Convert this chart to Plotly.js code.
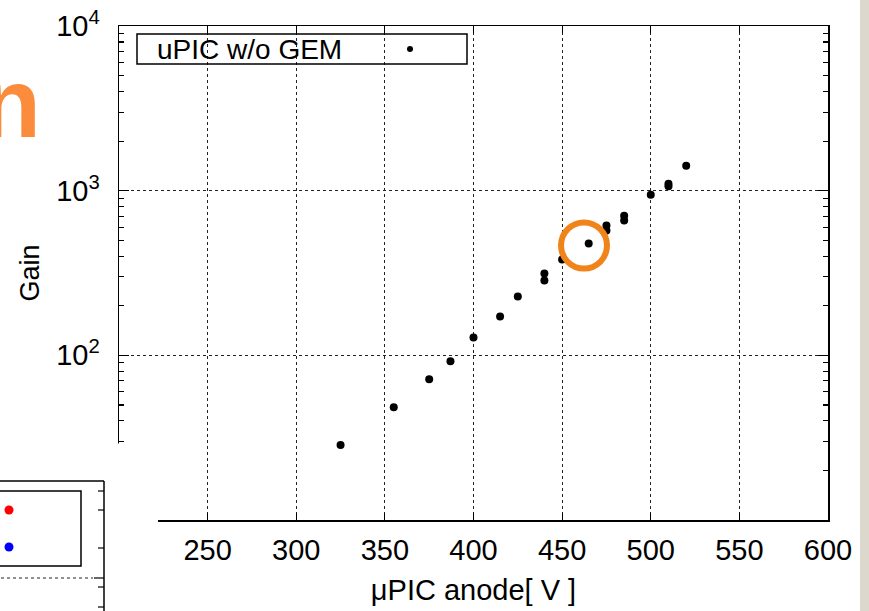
<!DOCTYPE html>
<html>
<head>
<meta charset="utf-8">
<script src="https://cdn.plot.ly/plotly-3.0.1.min.js"></script>
<style>
  html, body { margin: 0; padding: 0; background: #ffffff; }
  #chart { width: 869px; height: 611px; }
</style>
</head>
<body>
<div id="chart"></div>
<script>
// ---- data ----
const seriesName = "uPIC w/o GEM";
const anodeVoltage = [325, 355, 375, 387, 400, 415, 425, 440, 440, 450, 465, 475, 475, 485, 485, 500, 510, 510, 520];
const gainValues   = [28.5, 48.4, 71.6, 92, 128.5, 172, 228, 314, 285, 382, 477, 614, 573, 705, 658, 946, 1065, 1100, 1419];

const xTickVals = [200, 250, 300, 350, 400, 450, 500, 550, 600];
const xTickText = ["200", "250", "300", "350", "400", "450", "500", "550", "600"];
const yTickVals = [10, 100, 1000, 10000];
const yTickText = ["10<sup>1</sup>", "10<sup>2</sup>", "10<sup>3</sup>", "10<sup>4</sup>"];
const yMinorVals = [20,30,40,50,60,70,80,90,200,300,400,500,600,700,800,900,2000,3000,4000,5000,6000,7000,8000,9000];

const xTitle = "\u03BCPIC anode[ V ]";
const yTitle = "Gain";
const slideFragment = "n";

// ---- geometry helpers (pixel -> paper) ----
const L = 119, R = 828, T = 26, B = 520;
const W = R - L, H = B - T;
const px = v => (v - L) / W;
const py = v => (B - v) / H;

const FONT = "Liberation Sans, Arial, Helvetica, sans-serif";

const trace = {
  x: anodeVoltage,
  y: gainValues,
  type: "scatter",
  mode: "markers",
  name: seriesName,
  marker: { color: "#000000", size: 8 },
  showlegend: false,
  hoverinfo: "x+y"
};

const shapes = [];
// gnuplot-style legend box
shapes.push({ type: "rect", xref: "paper", yref: "paper",
  x0: px(137), x1: px(467), y0: py(64), y1: py(34),
  line: { color: "#000", width: 1.5 }, fillcolor: "rgba(0,0,0,0)", layer: "above" });
shapes.push({ type: "circle", xref: "paper", yref: "paper",
  x0: px(407), x1: px(413), y0: py(52), y1: py(46),
  line: { color: "#000", width: 0 }, fillcolor: "#000", layer: "above" });
// orange highlight circle
shapes.push({ type: "circle", xref: "paper", yref: "paper",
  x0: px(561), x1: px(607), y0: py(268.5), y1: py(222.5),
  line: { color: "#f0831a", width: 6 }, fillcolor: "rgba(0,0,0,0)", layer: "above" });
// white slide element covering lower-left corner
shapes.push({ type: "rect", xref: "paper", yref: "paper",
  x0: px(-10), x1: px(158), y0: py(620), y1: py(443.5),
  line: { width: 0 }, fillcolor: "#ffffff", layer: "above" });
// partial neighbouring chart (lower-left)
shapes.push({ type: "line", xref: "paper", yref: "paper",
  x0: px(-5), x1: px(104), y0: py(481), y1: py(481), line: { color: "#000", width: 1.5 }, layer: "above" });
shapes.push({ type: "line", xref: "paper", yref: "paper",
  x0: px(104), x1: px(104), y0: py(481), y1: py(615), line: { color: "#000", width: 1.5 }, layer: "above" });
[[491, 98], [510, 98], [548, 98], [578, 94], [587, 98], [607, 98]].forEach(t => {
  shapes.push({ type: "line", xref: "paper", yref: "paper",
    x0: px(t[1]), x1: px(104), y0: py(t[0]), y1: py(t[0]), line: { color: "#000", width: 1.2 }, layer: "above" });
});
shapes.push({ type: "line", xref: "paper", yref: "paper",
  x0: px(-5), x1: px(93), y0: py(578), y1: py(578), line: { color: "#222", width: 1, dash: "dot" }, layer: "above" });
shapes.push({ type: "rect", xref: "paper", yref: "paper",
  x0: px(-10), x1: px(81), y0: py(566), y1: py(491),
  line: { color: "#000", width: 1.5 }, fillcolor: "rgba(0,0,0,0)", layer: "above" });
shapes.push({ type: "circle", xref: "paper", yref: "paper",
  x0: px(4.5), x1: px(13.5), y0: py(514.5), y1: py(505.5),
  line: { width: 0 }, fillcolor: "#ff0000", layer: "above" });
shapes.push({ type: "circle", xref: "paper", yref: "paper",
  x0: px(4.5), x1: px(13.5), y0: py(551.5), y1: py(542.5),
  line: { width: 0 }, fillcolor: "#0000ff", layer: "above" });
// slide edge on the right
shapes.push({ type: "rect", xref: "paper", yref: "paper",
  x0: px(860), x1: px(875), y0: py(620), y1: py(-10),
  line: { width: 0 }, fillcolor: "#dcd8ce", layer: "above" });

const annotations = [
  { xref: "paper", yref: "paper", x: px(155), y: py(49), xanchor: "left", yanchor: "middle",
    text: seriesName, showarrow: false, font: { family: FONT, size: 28, color: "#000" } },
  { xref: "paper", yref: "paper", x: px(43), y: py(103), xanchor: "right", yanchor: "middle",
    text: "<b>" + slideFragment + "</b>", showarrow: false,
    font: { family: FONT, size: 98, color: "#fb8c3c" } }
];

const layout = {
  width: 869, height: 611,
  margin: { l: L, r: 869 - R, t: T, b: 611 - B, pad: 0 },
  paper_bgcolor: "#ffffff",
  plot_bgcolor: "#ffffff",
  font: { family: FONT, color: "#000" },
  showlegend: false,
  xaxis: {
    type: "linear", range: [200, 600],
    tickmode: "array", tickvals: xTickVals, ticktext: xTickText,
    ticks: "inside", ticklen: 7, tickwidth: 1.2, tickcolor: "#000",
    showline: true, linecolor: "#000", linewidth: 1.5, mirror: "ticks",
    showgrid: true, gridcolor: "#222", gridwidth: 1, griddash: "dot",
    zeroline: false,
    tickfont: { family: FONT, size: 29, color: "#000" },
    ticklabelstandoff: 4,
    title: { text: xTitle, font: { family: FONT, size: 29, color: "#000" }, standoff: 14 },
    automargin: false
  },
  yaxis: {
    type: "log", range: [1, 4],
    tickmode: "array", tickvals: yTickVals, ticktext: yTickText,
    ticks: "inside", ticklen: 10, tickwidth: 1.2, tickcolor: "#000",
    minor: { tickmode: "array", tickvals: yMinorVals, ticks: "inside", ticklen: 5, tickwidth: 1.2, tickcolor: "#000", showgrid: false },
    showline: true, linecolor: "#000", linewidth: 1.5, mirror: "ticks",
    showgrid: true, gridcolor: "#222", gridwidth: 1, griddash: "dot",
    zeroline: false,
    tickfont: { family: FONT, size: 29, color: "#000" },
    ticklabelstandoff: 12,
    title: { text: yTitle, font: { family: FONT, size: 27, color: "#000" }, standoff: 8 },
    automargin: false
  },
  shapes: shapes,
  annotations: annotations
};

Plotly.newPlot("chart", [trace], layout, { staticPlot: true, displayModeBar: false });
</script>
</body>
</html>
